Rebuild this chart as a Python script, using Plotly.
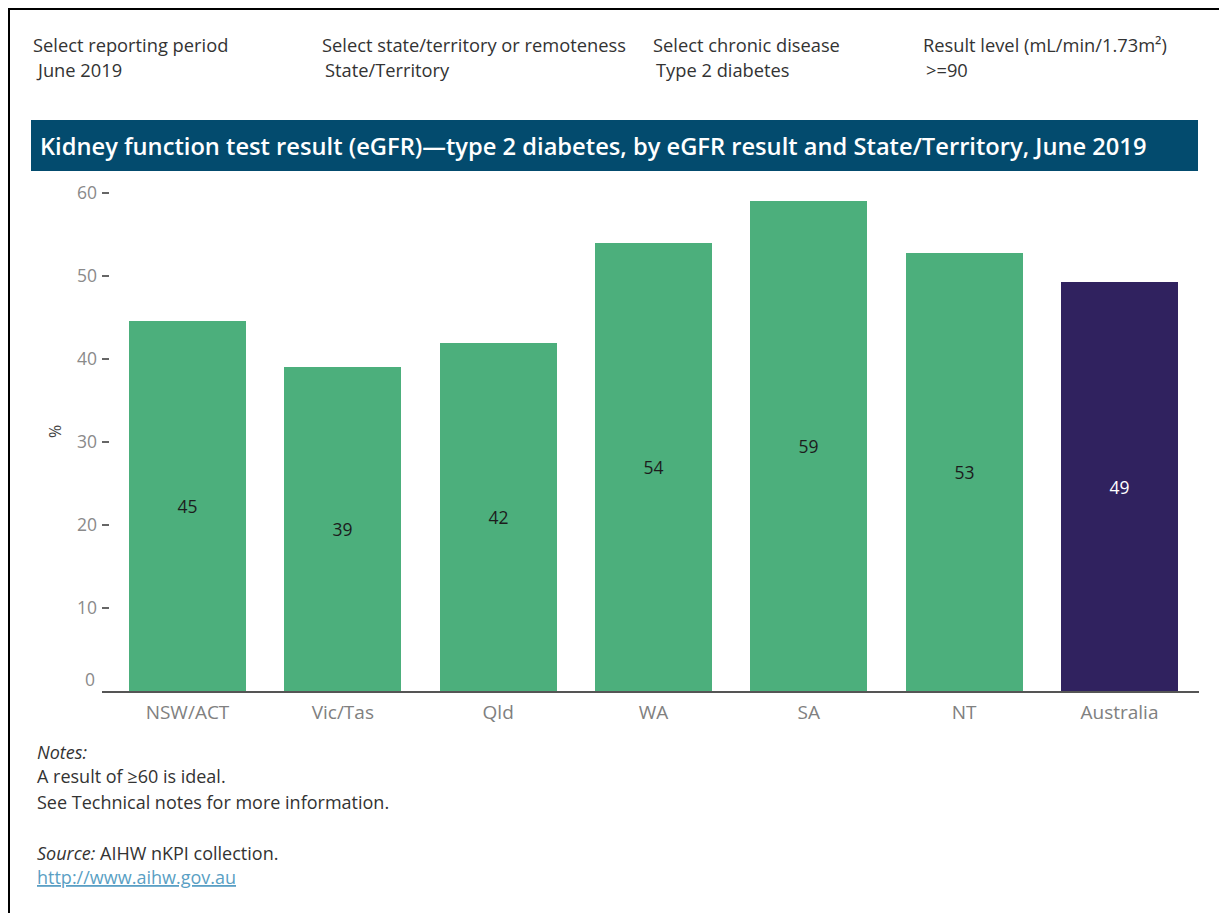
import plotly.graph_objects as go

# Proportion of people with type 2 diabetes with eGFR >= 90, June 2019
regions = ["NSW/ACT", "Vic/Tas", "Qld", "WA", "SA", "NT", "Australia"]
percent = [44.6, 39.0, 41.9, 54.0, 59.0, 52.7, 49.3]
bar_colors = ["#4caf7c"] * 6 + ["#30225f"]
label_colors = ["#1c1c1c"] * 6 + ["#ffffff"]
y_ticks = [10, 20, 30, 40, 50, 60]

filters = [
    ("Select reporting period", "June 2019", 31),
    ("Select state/territory or remoteness", "State/Territory", 320),
    ("Select chronic disease", "Type 2 diabetes", 651),
    ("Result level (mL/min/1.73m²)", ">=90", 921),
]

W, H = 1219, 913
ML, MR, MT, MB = 102, 20, 180, 222
PW, PH = W - ML - MR, H - MT - MB
FONT = "'Open Sans', Lato, sans-serif"


def px_x(x):
    return (x - ML) / PW


def px_y(y):
    return (H - MB - y) / PH


fig = go.Figure(
    go.Bar(
        x=list(range(len(regions))),
        y=percent,
        width=0.753,
        marker=dict(color=bar_colors, line=dict(width=0)),
        text=[f"{v:.0f}" for v in percent],
        textposition="inside",
        insidetextanchor="middle",
        textangle=0,
        textfont=dict(family=FONT, size=17.5, color=label_colors),
        hoverinfo="skip",
    )
)

annotations = []
for head, value, x in filters:
    annotations.append(dict(text=head, x=px_x(x), y=px_y(45), xref="paper", yref="paper",
                            xanchor="left", yanchor="middle", showarrow=False,
                            font=dict(family=FONT, size=18.3, color="#333333")))
    annotations.append(dict(text=value, x=px_x(x + 3), y=px_y(70), xref="paper", yref="paper",
                            xanchor="left", yanchor="middle", showarrow=False,
                            font=dict(family=FONT, size=18.3, color="#333333")))

annotations.append(dict(
    text="Kidney function test result (eGFR)\u2014type 2 diabetes, by eGFR result and State/Territory, June 2019",
    x=px_x(38), y=px_y(146), xref="paper", yref="paper", xanchor="left", yanchor="middle",
    showarrow=False, font=dict(family=FONT, size=23.7, color="#ffffff", weight=600)))

annotations.append(dict(text="%", x=px_x(55), y=px_y(432), xref="paper", yref="paper",
                        textangle=-90, showarrow=False, xanchor="center", yanchor="middle",
                        font=dict(family=FONT, size=16, color="#444444")))

annotations.append(dict(text="0", x=px_x(97), y=0, xref="paper", yref="y", yshift=12,
                        xanchor="right", yanchor="middle", showarrow=False,
                        font=dict(family=FONT, size=17.5, color="#8a8a8a")))

notes = [
    ("<i>Notes:</i>", 752, "#333333"),
    ("A result of \u226560 is ideal.", 776, "#333333"),
    ("See Technical notes for more information.", 802, "#333333"),
    ("<i>Source:</i> AIHW nKPI collection.", 853, "#333333"),
    ("<u>http://www.aihw.gov.au</u>", 877, "#5a9fc4"),
]
for txt, y, col in notes:
    annotations.append(dict(text=txt, x=px_x(35), y=px_y(y), xref="paper", yref="paper",
                            xanchor="left", yanchor="middle", showarrow=False,
                            font=dict(family=FONT, size=18, color=col)))

shapes = [
    # title banner
    dict(type="rect", xref="paper", yref="paper", x0=px_x(31), x1=px_x(1198),
         y0=px_y(171), y1=px_y(120), fillcolor="#034b6e", line=dict(width=0), layer="below"),
    # frame lines
    dict(type="line", xref="paper", yref="paper", x0=px_x(9), x1=px_x(9),
         y0=px_y(8), y1=px_y(H + 5), line=dict(color="#000000", width=2)),
    dict(type="line", xref="paper", yref="paper", x0=px_x(8), x1=px_x(W + 5),
         y0=px_y(9), y1=px_y(9), line=dict(color="#000000", width=2)),
]

fig.update_layout(
    width=W, height=H,
    margin=dict(l=ML, r=MR, t=MT, b=MB, autoexpand=False),
    paper_bgcolor="#ffffff", plot_bgcolor="#ffffff",
    showlegend=False,
    annotations=annotations,
    shapes=shapes,
    bargap=0,
    xaxis=dict(
        tickmode="array", tickvals=list(range(len(regions))), ticktext=regions,
        range=[-0.5504, 6.512], showgrid=False, zeroline=False,
        showline=True, linecolor="#555555", linewidth=1.5, ticks="",
        ticklabelstandoff=3,
        tickfont=dict(family=FONT, size=19, color="#808080"),
        fixedrange=True,
    ),
    yaxis=dict(
        range=[0, 61.53], tickmode="array", tickvals=y_ticks,
        showgrid=False, zeroline=False, showline=False,
        ticks="inside", ticklen=7, tickwidth=1.5, tickcolor="#666666",
        ticklabelstandoff=4,
        tickfont=dict(family=FONT, size=17.5, color="#8a8a8a"),
        fixedrange=True,
    ),
    font=dict(family=FONT),
)

fig.write_html("out.html", config={"displayModeBar": False})
